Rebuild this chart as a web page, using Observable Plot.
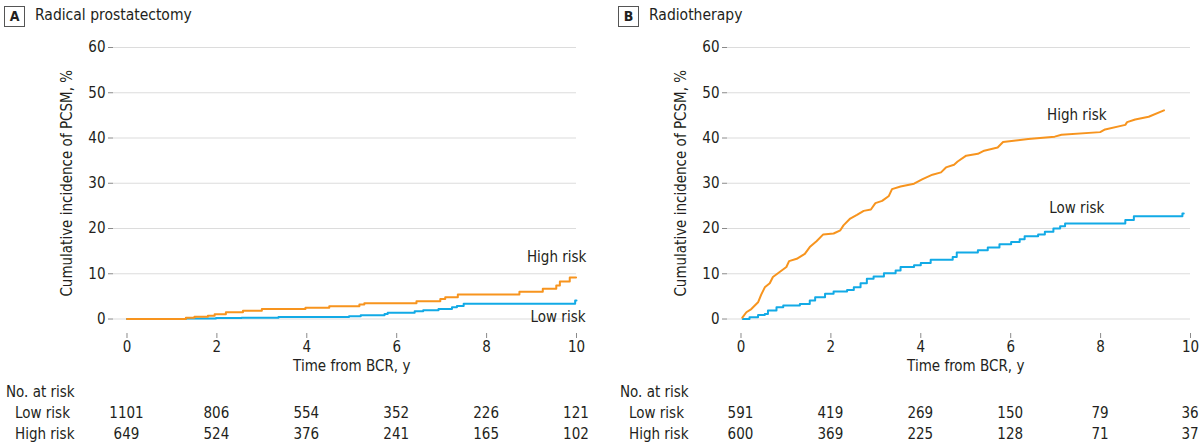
<!DOCTYPE html>
<html><head><meta charset="utf-8">
<script src="https://cdn.jsdelivr.net/npm/d3@7"></script>
<script src="https://cdn.jsdelivr.net/npm/@observablehq/plot@0.6"></script>
<style>
body{margin:0;background:#fff;}
#root{position:relative;width:1200px;height:446px;font-family:"DejaVu Sans Condensed","DejaVu Sans",sans-serif;font-size:15px;color:#231f20;overflow:hidden}
.panel{position:absolute;top:0;width:586px;height:446px}
.box{position:absolute;left:4px;top:6px;width:19px;height:19px;border:1px solid #555;font-weight:bold;font-size:14px;text-align:center;line-height:19px}
.title{position:absolute;left:35px;top:5px;font-size:15.5px;line-height:20px}
.plot{position:absolute;left:0;top:32px}
.lbl{position:absolute;white-space:nowrap;line-height:18px}
</style></head><body><div id="root"></div>
<script>
// ---- data ----
const riskTimes = [0, 2, 4, 6, 8, 10];
const yTicks = [0, 10, 20, 30, 40, 50, 60];

const rpLowAtRisk  = [1101, 806, 554, 352, 226, 121];
const rpHighAtRisk = [649, 524, 376, 241, 165, 102];
const rtLowAtRisk  = [591, 419, 269, 150, 79, 36];
const rtHighAtRisk = [600, 369, 225, 128, 71, 37];

// Radical prostatectomy
const rpHighTime = [0, 1.31, 1.5, 1.8, 1.95, 2.2, 2.58, 3.0, 3.97, 4.5, 5.17, 5.28, 6.44, 6.97, 7.08, 7.36, 8.73, 9.25, 9.55, 9.63, 9.85, 9.99];
const rpHighCum  = [0, 0.3, 0.5, 0.74, 1.04, 1.5, 1.85, 2.2, 2.5, 2.8, 3.2, 3.5, 3.9, 4.4, 4.8, 5.4, 6.0, 6.7, 7.4, 8.3, 9.2, 9.2];
const rpLowTime  = [0, 1.31, 1.98, 2.55, 3.37, 4.94, 5.2, 5.73, 5.8, 6.4, 6.59, 6.93, 7.23, 7.34, 7.49, 9.97, 10.0];
const rpLowCum   = [0, 0.1, 0.2, 0.3, 0.45, 0.6, 0.85, 1.1, 1.4, 1.7, 1.95, 2.2, 2.6, 2.9, 3.4, 4.1, 4.1];

// Radiotherapy
const rtHighTime = [0.03, 0.12, 0.23, 0.38, 0.45, 0.53, 0.64, 0.71, 0.86, 1.01, 1.07, 1.24, 1.42, 1.53, 1.68, 1.83, 2.06, 2.21, 2.28, 2.43, 2.58, 2.73, 2.89, 2.99, 3.14, 3.29, 3.36, 3.55, 3.85, 4.04, 4.26, 4.45, 4.56, 4.74, 4.82, 5.01, 5.27, 5.41, 5.71, 5.83, 6.39, 6.98, 7.13, 7.99, 8.10, 8.55, 8.59, 8.77, 9.07, 9.41];
const rtHighCum  = [0.3, 1.5, 2.2, 3.7, 5.4, 7.0, 7.9, 9.3, 10.4, 11.5, 12.8, 13.3, 14.4, 15.9, 17.2, 18.7, 18.9, 19.6, 20.7, 22.2, 23.0, 23.9, 24.2, 25.6, 26.1, 27.2, 28.7, 29.3, 29.9, 30.9, 31.9, 32.4, 33.5, 34.1, 34.8, 36.1, 36.5, 37.2, 37.9, 39.1, 39.8, 40.3, 40.7, 41.3, 41.9, 42.9, 43.5, 44.1, 44.7, 46.1];
const rtLowTime  = [0.04, 0.19, 0.38, 0.53, 0.60, 0.79, 0.94, 1.31, 1.53, 1.65, 1.87, 2.06, 2.36, 2.51, 2.66, 2.80, 2.95, 3.18, 3.44, 3.55, 3.85, 4.00, 4.22, 4.71, 4.80, 5.27, 5.49, 5.75, 6.01, 6.20, 6.31, 6.61, 6.76, 6.95, 7.10, 7.21, 8.55, 8.74, 9.82, 9.85];
const rtLowCum   = [0.0, 0.4, 0.9, 1.1, 1.9, 2.6, 3.0, 3.3, 4.1, 4.8, 5.6, 6.1, 6.4, 7.0, 7.9, 8.9, 9.4, 10.1, 10.7, 11.5, 11.9, 12.4, 13.1, 13.7, 14.7, 15.2, 15.8, 16.5, 17.0, 17.6, 18.3, 18.7, 19.3, 20.0, 20.5, 21.1, 21.9, 22.7, 23.3, 23.3];

const xLabel = "Time from BCR, y";
const yLabel = "Cumulative incidence of PCSM, %";

const orange = "#F7941E", blue = "#12AAE6", ink = "#231f20";
const font = '"DejaVu Sans Condensed","DejaVu Sans",sans-serif';

const zip = (t, c) => t.map((d, i) => ({t: d, y: c[i]}));

const panels = [
  {left: 0, letter: "A", title: "Radical prostatectomy",
   high: zip(rpHighTime, rpHighCum), low: zip(rpLowTime, rpLowCum), highCurve: "step-after",
   labels: [{t: 10.22, y: 13.6, text: "High risk"}, {t: 10.2, y: 0.3, text: "Low risk"}], anchor: "end",
   lowRisk: rpLowAtRisk, highRisk: rpHighAtRisk},
  {left: 614, letter: "B", title: "Radiotherapy",
   high: zip(rtHighTime, rtHighCum), low: zip(rtLowTime, rtLowCum), highCurve: "linear",
   labels: [{t: 7.47, y: 45.1, text: "High risk"}, {t: 7.47, y: 24.5, text: "Low risk"}], anchor: "middle",
   lowRisk: rtLowAtRisk, highRisk: rtHighAtRisk}
];

const root = document.getElementById("root");

for (const p of panels) {
  const div = document.createElement("div");
  div.className = "panel";
  div.style.left = p.left + "px";
  root.appendChild(div);

  const box = document.createElement("div");
  box.className = "box"; box.textContent = p.letter; div.appendChild(box);
  const title = document.createElement("div");
  title.className = "title"; title.textContent = p.title; div.appendChild(title);

  const plot = Plot.plot({
    width: 586, height: 345,
    marginLeft: 113, marginRight: 10, marginTop: 15, marginBottom: 44,
    style: {fontFamily: font, fontSize: "15px", color: ink, background: "transparent", overflow: "visible"},
    x: {domain: [-0.3, 10]},
    y: {domain: [-3.2, 60]},
    marks: [
      Plot.gridY(yTicks, {stroke: "#dcdcdc", strokeOpacity: 1, strokeWidth: 1.2}),
      Plot.axisY(yTicks, {tickSize: 5, tickPadding: 3, stroke: "#8a8a8a", fill: ink, line: true, label: null}),
      Plot.axisX(riskTimes, {tickSize: 5, tickPadding: 3, stroke: "#8a8a8a", fill: ink, line: true, label: null}),
      Plot.text([yLabel], {x: -0.3, y: 30, text: d => d, rotate: -90, dx: -46, textAnchor: "middle", fill: ink, fontSize: 15}),
      Plot.text([xLabel], {x: 5, frameAnchor: "bottom", text: d => d, dy: 37, textAnchor: "middle", fill: ink, fontSize: 15}),
      Plot.line(p.low, {x: "t", y: "y", stroke: blue, strokeWidth: 2, curve: "step-after"}),
      Plot.line(p.high, {x: "t", y: "y", stroke: orange, strokeWidth: 2, curve: p.highCurve}),
      Plot.text(p.labels, {x: "t", y: "y", text: "text", textAnchor: p.anchor, fill: ink, fontSize: 15})
    ]
  });
  plot.classList.add("plot");
  div.appendChild(plot);

  const xs = plot.scale("x");
  const rows = [
    {name: "No. at risk", top: 383, indent: 6, vals: null},
    {name: "Low risk", top: 404, indent: 15, vals: p.lowRisk},
    {name: "High risk", top: 425, indent: 15, vals: p.highRisk}
  ];
  for (const r of rows) {
    const n = document.createElement("div");
    n.className = "lbl"; n.textContent = r.name;
    n.style.left = r.indent + "px"; n.style.top = r.top + "px";
    div.appendChild(n);
    if (!r.vals) continue;
    r.vals.forEach((v, i) => {
      const e = document.createElement("div");
      e.className = "lbl"; e.textContent = v;
      e.style.left = xs.apply(riskTimes[i]) + "px"; e.style.top = r.top + "px";
      e.style.transform = "translateX(-50%)";
      div.appendChild(e);
    });
  }
}
</script></body></html>
